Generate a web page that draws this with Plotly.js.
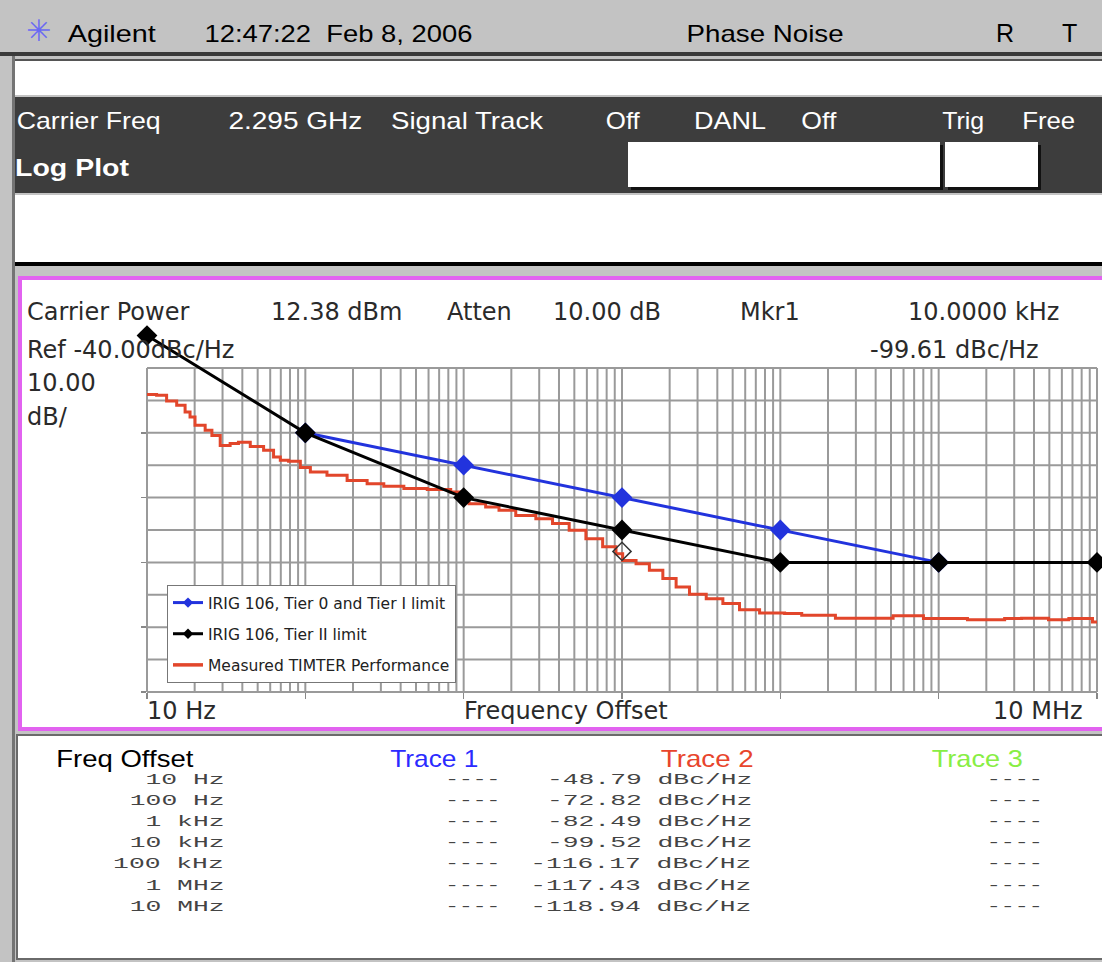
<!DOCTYPE html>
<html><head><meta charset="utf-8">
<script src="https://cdn.plot.ly/plotly-3.0.1.min.js"></script>
<style>html,body{margin:0;padding:0;background:#c3c3c3;}#chart{width:1102px;height:962px;}</style>
</head><body><div id="chart"></div>
<script>
// ---------------- data ----------------
const tier0Freq  = [100, 1e3, 1e4, 1e5, 1e6];
const tier0Limit = [-60, -70, -80, -90, -100];
const tier2Freq  = [10, 100, 1e3, 1e4, 1e5, 1e6, 1e7];
const tier2Limit = [-30, -60, -80, -90, -100, -100, -100];
const measFreq = [10, 11.5, 13.3, 15.4, 17.4, 18.7, 20.1, 23.3, 25.7, 29.0, 33.5, 37.8, 44.9, 54.5, 63.0, 69.5, 78.4, 93, 107.6, 137, 183.6, 245.6, 313, 419, 589, 828, 982, 1081, 1377, 1672, 2133, 2857, 3642, 4638, 5916, 7547, 9160, 10100, 12270, 14890, 18110, 21970, 26680, 34040, 43360, 55240, 73960, 106400, 136500, 222800, 515300, 801500, 1520000, 2610000, 3340000, 4940000, 6640000, 9370000, 10000000];
const measVal  = [-48.2, -48.4, -50.2, -51.5, -53.6, -55.1, -57.7, -59.2, -60.8, -63.9, -63.3, -62.9, -64.2, -65.4, -67.5, -68.5, -68.8, -70.7, -72.1, -73.1, -74.7, -75.7, -76.5, -77.2, -77.5, -78.3, -79.3, -81.9, -82.9, -83.9, -85.5, -86.5, -88.0, -90.1, -92.7, -95.2, -97.3, -99.4, -100.4, -102.4, -105.0, -107.6, -109.8, -111.2, -112.7, -114.6, -115.6, -115.8, -116.3, -117.2, -116.5, -117.3, -117.7, -117.3, -117.2, -117.7, -117.3, -118.4, -118.5];
const mkrFreq = [1e4];
const mkrVal  = [-96.6];
const seriesNames = ['IRIG 106, Tier 0 and Tier I limit', 'IRIG 106, Tier II limit', 'Measured TIMTER Performance'];
const tableFreqs  = ['10 Hz', '100 Hz', '1 kHz', '10 kHz', '100 kHz', '1 MHz', '10 MHz'];
const trace2Values = [-48.79, -72.82, -82.49, -99.52, -116.17, -117.43, -118.94];
const refLevel = -40, dbPerDiv = 10, nDiv = 10;
const fStart = 10, fStop = 1e7;

// ---------------- geometry helpers ----------------
const PL = 147, PR = 1097, PT = 320, PB = 692;
const pxPerDb = 3.24;
const X = px => (px - PL) / (PR - PL);
const Y = py => (PB - py) / (PB - PT);
const SANS = 'Liberation Sans, Arial, sans-serif';
const VER = 'DejaVu Sans, Verdana, sans-serif';
const MONO = 'Liberation Mono, Courier New, monospace';
const yBot = refLevel - dbPerDiv * nDiv;
const yTop = yBot + (PB - PT) / pxPerDb;
const lx0 = Math.log10(fStart), lx1 = Math.log10(fStop);
const fx = f => (Math.log10(f) - lx0) / (lx1 - lx0);   // frequency -> paper x
const dy = v => (v - yBot) / (yTop - yBot);              // dB -> paper y

const shapes = [];
function rect(x0, y0, x1, y1, fill, lineColor, lw) {
  shapes.push({type: 'rect', xref: 'paper', yref: 'paper', layer: 'below',
    x0: X(x0), x1: X(x1), y0: Y(y1), y1: Y(y0), fillcolor: fill,
    line: {color: lineColor || fill, width: lw || 0}});
}
const annotations = [];
const stretch = {};
function txt(x, y, text, size, color, family, anchor, weight) {
  annotations.push({xref: 'paper', yref: 'paper', x: X(x), y: Y(y), text: text,
    showarrow: false, xanchor: anchor || 'left', yanchor: 'middle',
    font: {family: family || VER, size: size, color: color, weight: weight || 'normal'}});
}
function stxt(x0, x1, y, text, size, color, family, weight) {
  annotations.push({xref: 'paper', yref: 'paper', x: X((x0 + x1) / 2), y: Y(y), text: text,
    showarrow: false, xanchor: 'center', yanchor: 'middle', align: 'center',
    font: {family: family || SANS, size: size, color: color, weight: weight || 'normal'}});
  stretch[annotations.length - 1] = x1 - x0;
}

// ---------------- screen furniture ----------------
rect(0, 0, 1102, 52, '#c3c3c3');
rect(0, 52, 1102, 56, '#3a3a3a');
rect(12, 56, 15, 962, '#747474');
rect(15, 59, 1102, 61, '#555555');
rect(15, 61, 1102, 95, '#ffffff');
rect(15, 97, 1102, 193, '#3d3d3d');
rect(631, 145, 943, 190, '#111111');
rect(628, 142, 940, 187, '#ffffff');
rect(948, 145, 1041, 190, '#111111');
rect(945, 142, 1038, 187, '#ffffff');
rect(15, 195, 1102, 262, '#ffffff');
rect(15, 262, 1102, 266, '#000000');
rect(20, 278, 1110, 729, '#ffffff', '#e262f0', 4);
rect(17, 735, 1110, 959, '#ffffff', '#6a6a6a', 2);

// grid (log x decades 1..9, 10 dB/div)
const gridColor = '#9a9a9a';
function gline(x0, x1, y0, y1) {
  shapes.push({type: 'line', xref: 'paper', yref: 'paper', layer: 'below', x0: x0, x1: x1, y0: y0, y1: y1, line: {color: gridColor, width: 2}});
}
for (let d = lx0; d < lx1; d++) {
  for (let m = 1; m < 10; m++) {
    const gx = fx(m * Math.pow(10, d));
    gline(gx, gx, dy(yBot), dy(refLevel));
  }
}
gline(fx(fStop), fx(fStop), dy(yBot), dy(refLevel));
for (let k = 0; k <= nDiv; k++) {
  const gy = dy(refLevel - k * dbPerDiv);
  gline(0, 1, gy, gy);
}

// header
txt(38, 30, '✳', 30, '#6a6af2', VER, 'center');
stxt(68, 156, 33, 'Agilent', 24, '#000');
stxt(204, 472, 33, '12:47:22  Feb 8, 2006', 24, '#000');
stxt(686, 843, 33, 'Phase Noise', 24, '#000');
txt(1005, 33, 'R', 25, '#000', SANS, 'center');
txt(1069, 33, 'T', 25, '#000', SANS, 'center');
stxt(16, 160, 120, 'Carrier Freq', 24, '#fff');
stxt(228, 362, 120, '2.295 GHz', 24, '#fff');
stxt(391, 543, 120, 'Signal Track', 24, '#fff');
stxt(606, 640, 120, 'Off', 24, '#fff');
stxt(694, 766, 120, 'DANL', 24, '#fff');
stxt(801, 836, 120, 'Off', 24, '#fff');
stxt(942, 984, 120, 'Trig', 24, '#fff');
stxt(1022, 1075, 120, 'Free', 24, '#fff');
stxt(15, 129, 168, 'Log Plot', 24, '#fff', SANS, 'bold');

// plot panel texts
const pc = '#2a2a2a';
txt(25, 312, 'Carrier Power', 24, pc);
txt(269, 312, '12.38 dBm', 24, pc);
txt(445, 312, 'Atten', 24, pc);
txt(551, 312, '10.00 dB', 24, pc);
txt(738, 312, 'Mkr1', 24, pc);
txt(906, 312, '10.0000 kHz', 24, pc);
txt(25, 350, 'Ref ' + refLevel.toFixed(2) + 'dBc/Hz', 24, pc);
txt(868, 350, '-99.61 dBc/Hz', 24, pc);
txt(25, 383, dbPerDiv.toFixed(2), 24, pc);
txt(25, 417, 'dB/', 24, pc);
txt(145, 711, '10 Hz', 24, pc);
txt(462, 711, 'Frequency Offset', 24, pc);
txt(1085, 711, '10 MHz', 24, pc, VER, 'right');

// table
stxt(56, 193, 758, 'Freq Offset', 24, '#000');
stxt(390, 478, 758, 'Trace 1', 24, '#2b2bff');
stxt(660, 753, 758, 'Trace 2', 24, '#e8452c');
stxt(931, 1022, 758, 'Trace 3', 24, '#88ee44');
const cw = 15.8;
tableFreqs.forEach((f, i) => {
  const y = 780 + i * 21.1;
  const w1 = f.length * cw;
  stxt(224 - w1, 224, y, f, 14, '#444', MONO);
  stxt(445, 500, y, '----', 14, '#444', MONO);
  const v = trace2Values[i].toFixed(2) + ' dBc/Hz';
  const w2 = v.length * cw;
  stxt(752 - w2, 752, y, v, 14, '#444', MONO);
  stxt(987, 1043, y, '----', 14, '#444', MONO);
});

// ---------------- traces ----------------
const blue = '#2233dd', red = '#e2462b', black = '#000000';
const traces = [
  {x: measFreq, y: measVal, mode: 'lines', line: {color: red, width: 3, shape: 'hv'}, showlegend: false, hoverinfo: 'skip'},
  {x: tier0Freq, y: tier0Limit, mode: 'lines+markers', line: {color: blue, width: 3}, marker: {symbol: 'diamond', size: 16, color: blue}, showlegend: false, cliponaxis: false, hoverinfo: 'skip'},
  {x: tier2Freq, y: tier2Limit, mode: 'lines+markers', line: {color: black, width: 3}, marker: {symbol: 'diamond', size: 16, color: black}, showlegend: false, cliponaxis: false, hoverinfo: 'skip'},
  {x: mkrFreq, y: mkrVal, mode: 'markers', marker: {symbol: 'diamond-open', size: 14, color: '#333', line: {width: 1.5}}, showlegend: false, cliponaxis: false, hoverinfo: 'skip'},
  {x: [null], y: [null], mode: 'lines+markers', name: seriesNames[0], legendgroup: 'a', line: {color: blue, width: 3}, marker: {symbol: 'diamond', size: 8, color: blue}},
  {x: [null], y: [null], mode: 'lines+markers', name: seriesNames[1], legendgroup: 'b', line: {color: black, width: 3}, marker: {symbol: 'diamond', size: 8, color: black}},
  {x: [null], y: [null], mode: 'lines', name: seriesNames[2], legendgroup: 'c', line: {color: red, width: 3.5}}
];

const layout = {
  width: 1102, height: 962,
  margin: {l: PL, r: 1102 - PR, t: PT, b: 962 - PB, pad: 0},
  paper_bgcolor: '#c3c3c3', plot_bgcolor: 'rgba(0,0,0,0)',
  showlegend: true,
  legend: {x: X(167), y: Y(585), xanchor: 'left', yanchor: 'top', bgcolor: '#ffffff', bordercolor: '#777', borderwidth: 1,
    font: {family: VER, size: 15.5, color: '#222'}, traceorder: 'grouped', tracegroupgap: 8, itemwidth: 30},
  xaxis: {type: 'log', range: [lx0, lx1], showgrid: false, zeroline: false, showline: false,
    tickvals: [10, 100, 1e3, 1e4, 1e5, 1e6, 1e7], ticks: 'outside', ticklen: 6, tickcolor: '#888', tickwidth: 1.5,
    showticklabels: false, fixedrange: true},
  yaxis: {range: [yBot, yTop], showgrid: false, zeroline: false, showline: false,
    tickvals: [-60, -80, -100, -120, -140], ticks: 'outside', ticklen: 5, tickcolor: '#888', tickwidth: 1.5,
    showticklabels: false, fixedrange: true},
  shapes: shapes, annotations: annotations
};

Plotly.newPlot('chart', traces, layout, {displayModeBar: false, staticPlot: true}).then(() => {
  Object.keys(stretch).forEach(idx => {
    const g = document.querySelector('#chart .annotation[data-index="' + idx + '"] text.annotation-text');
    if (g) {
      g.setAttribute('textLength', String(stretch[idx]));
      g.setAttribute('lengthAdjust', 'spacingAndGlyphs');
    }
  });
});
</script></body></html>
